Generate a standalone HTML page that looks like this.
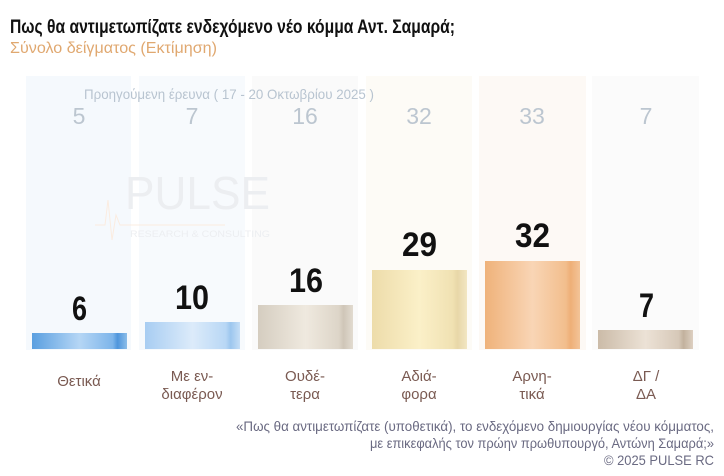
<!DOCTYPE html>
<html><head><meta charset="utf-8"><style>
body{margin:0;background:#fff;}
svg{display:block;}
text{font-family:"Liberation Sans",sans-serif;}
</style></head><body>
<svg width="724" height="476" viewBox="0 0 724 476" xmlns="http://www.w3.org/2000/svg">
<defs>
<linearGradient id="g1" x1="0" x2="1"><stop offset="0" stop-color="#5a9fe0"/><stop offset="0.5" stop-color="#b5d6f5"/><stop offset="0.85" stop-color="#7db5ea"/><stop offset="0.9" stop-color="#4f96dc"/><stop offset="1" stop-color="#8bbde9"/></linearGradient>
<linearGradient id="g2" x1="0" x2="1"><stop offset="0" stop-color="#a8cdf2"/><stop offset="0.5" stop-color="#dcebfa"/><stop offset="0.85" stop-color="#b8d7f5"/><stop offset="0.9" stop-color="#9cc6ee"/><stop offset="1" stop-color="#c5def6"/></linearGradient>
<linearGradient id="g3" x1="0" x2="1"><stop offset="0" stop-color="#d5cdc0"/><stop offset="0.5" stop-color="#efe9df"/><stop offset="0.85" stop-color="#ddd5c8"/><stop offset="0.9" stop-color="#cfc6b8"/><stop offset="1" stop-color="#e2dbd0"/></linearGradient>
<linearGradient id="g4" x1="0" x2="1"><stop offset="0" stop-color="#eddcaa"/><stop offset="0.5" stop-color="#fbf0c8"/><stop offset="0.85" stop-color="#f0e1b2"/><stop offset="0.9" stop-color="#e8d7a8"/><stop offset="1" stop-color="#f2e6c2"/></linearGradient>
<linearGradient id="g5" x1="0" x2="1"><stop offset="0" stop-color="#efb27a"/><stop offset="0.5" stop-color="#f9d5b5"/><stop offset="0.85" stop-color="#f2be8d"/><stop offset="0.9" stop-color="#eeaf77"/><stop offset="1" stop-color="#f3c498"/></linearGradient>
<linearGradient id="g6" x1="0" x2="1"><stop offset="0" stop-color="#cbbba8"/><stop offset="0.5" stop-color="#ece2d6"/><stop offset="0.85" stop-color="#d6c8b8"/><stop offset="0.9" stop-color="#c2b19d"/><stop offset="1" stop-color="#ddd0c2"/></linearGradient>
</defs>
<text x="10" y="33" font-size="19" font-weight="bold" fill="#111" textLength="445" lengthAdjust="spacingAndGlyphs">Πως θα αντιμετωπίζατε ενδεχόμενο νέο κόμμα Αντ. Σαμαρά;</text>
<text x="10" y="53" font-size="16" fill="#e0a870" textLength="207" lengthAdjust="spacingAndGlyphs">Σύνολο δείγματος   (Εκτίμηση)</text>
<rect x="26" y="76" width="105" height="274" fill="#f5f9fd"/>
<rect x="139" y="76" width="106" height="274" fill="#f7fafd"/>
<rect x="252" y="76" width="106" height="274" fill="#fafafa"/>
<rect x="366" y="76" width="106" height="274" fill="#fdfbf6"/>
<rect x="479" y="76" width="107" height="274" fill="#fdf9f5"/>
<rect x="592" y="76" width="107" height="274" fill="#fbfbfb"/>
<text x="84" y="99" font-size="14" fill="#b8c4d0" textLength="290" lengthAdjust="spacingAndGlyphs">Προηγούμενη έρευνα ( 17 - 20 Οκτωβρίου 2025 )</text>
<g font-size="23" fill="#bcc6d0" text-anchor="middle">
<text x="79" y="124">5</text><text x="192" y="124">7</text><text x="305" y="124">16</text>
<text x="419" y="124">32</text><text x="532" y="124">33</text><text x="646" y="124">7</text>
</g>
<text x="125" y="209" font-size="46" fill="#eceef1" textLength="145" lengthAdjust="spacingAndGlyphs">PULSE</text>
<text x="130" y="237" font-size="9" fill="#eceef1" textLength="140" lengthAdjust="spacingAndGlyphs">RESEARCH &amp; CONSULTING</text>
<polyline points="95,225 105,225 108,200 112,240 116,215 120,225 225,225" fill="none" stroke="#fbece0" stroke-width="1"/>
<rect x="32" y="333" width="95" height="16" fill="url(#g1)"/>
<rect x="145" y="322" width="95" height="27" fill="url(#g2)"/>
<rect x="258" y="305" width="95" height="44" fill="url(#g3)"/>
<rect x="372" y="270" width="95" height="79" fill="url(#g4)"/>
<rect x="485" y="261" width="95" height="88" fill="url(#g5)"/>
<rect x="598" y="330" width="95" height="19" fill="url(#g6)"/>
<g font-size="34" font-weight="bold" fill="#111">
<text x="72" y="320" textLength="15" lengthAdjust="spacingAndGlyphs">6</text>
<text x="175" y="309" textLength="34" lengthAdjust="spacingAndGlyphs">10</text>
<text x="289" y="292" textLength="34" lengthAdjust="spacingAndGlyphs">16</text>
<text x="402" y="256" textLength="35" lengthAdjust="spacingAndGlyphs">29</text>
<text x="515" y="247" textLength="35" lengthAdjust="spacingAndGlyphs">32</text>
<text x="639" y="317" textLength="15" lengthAdjust="spacingAndGlyphs">7</text>
</g>
<g font-size="15" fill="#7a5a52" text-anchor="middle">
<text x="79" y="386">Θετικά</text>
<text x="192" y="381">Με εν-</text><text x="192" y="399">διαφέρον</text>
<text x="305" y="381">Ουδέ-</text><text x="305" y="399">τερα</text>
<text x="419" y="381">Αδιά-</text><text x="419" y="399">φορα</text>
<text x="532" y="381">Αρνη-</text><text x="532" y="399">τικά</text>
<text x="646" y="381">ΔΓ /</text><text x="646" y="399">ΔΑ</text>
</g>
<g font-size="14" fill="#6a6a82">
<text x="236" y="431" textLength="478" lengthAdjust="spacingAndGlyphs">«Πως θα αντιμετωπίζατε (υποθετικά), το ενδεχόμενο δημιουργίας νέου κόμματος,</text>
<text x="370" y="448" textLength="344" lengthAdjust="spacingAndGlyphs">με επικεφαλής τον πρώην πρωθυπουργό, Αντώνη Σαμαρά;»</text>
<text x="604" y="465" textLength="110" lengthAdjust="spacingAndGlyphs">©  2025  PULSE RC</text>
</g>
</svg>
</body></html>
